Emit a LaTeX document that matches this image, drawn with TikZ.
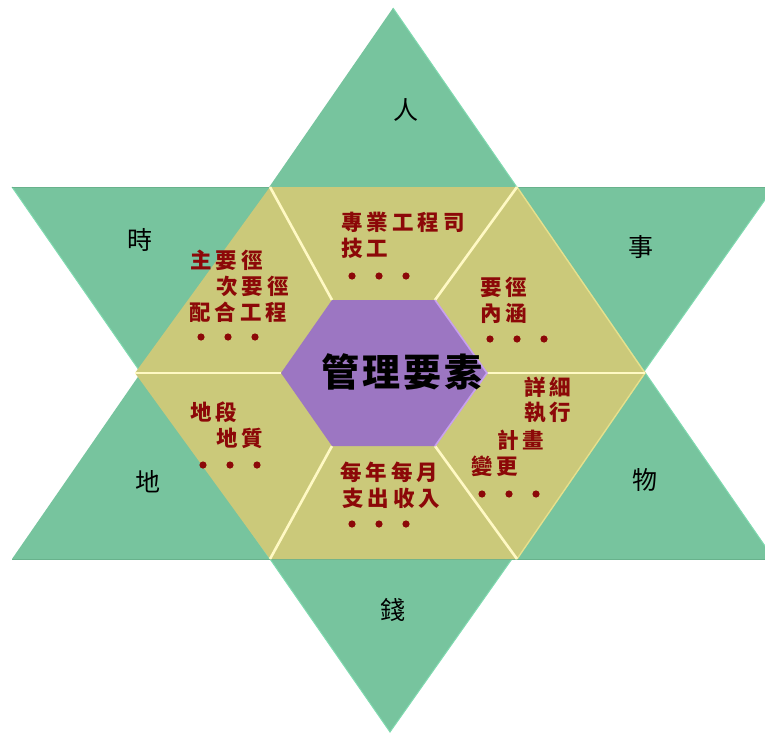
\documentclass[tikz,border=0pt]{standalone}
\usepackage{fontspec}
\newfontfamily\cjk{Noto Sans CJK TC}
\newfontfamily\cjkred[LetterSpace=19]{Noto Sans CJK TC}
\newfontfamily\cjkbig[LetterSpace=8]{Noto Sans CJK TC}
\definecolor{stargreen}{RGB}{119,196,158}
\definecolor{stargreenlt}{RGB}{128,218,176}
\definecolor{stargreendk}{RGB}{104,178,140}
\definecolor{hexyellow}{RGB}{203,201,122}
\definecolor{hexyellowlt}{RGB}{230,224,140}
\definecolor{divcream}{RGB}{255,249,196}
\definecolor{corepurple}{RGB}{156,118,194}
\definecolor{corepurplelt}{RGB}{200,160,240}
\definecolor{txtred}{RGB}{140,8,8}
\tikzset{
  pointlabel/.style={font=\cjk\fontsize{25}{25}\selectfont, text=black, inner sep=0pt},
  redlabel/.style={font=\cjkred\bfseries\fontsize{21.5}{21.5}\selectfont, text=txtred, inner sep=0pt, anchor=west},
  corelabel/.style={font=\cjkbig\bfseries\fontsize{38}{38}\selectfont, text=black, inner sep=0pt},
  divider/.style={draw=divcream, line width=2.6pt},
  reddot/.style={fill=txtred},
}
\newcommand{\dotrow}[2]{%
  \fill[reddot] (#1,#2) circle (3.6);
  \fill[reddot] (#1+27,#2) circle (3.6);
  \fill[reddot] (#1+54,#2) circle (3.6);
}
\begin{document}
\begin{tikzpicture}[x=1pt,y=-1pt]
\useasboundingbox (0,0) rectangle (765,733);
\clip (0,0) rectangle (765,733);
% star triangles
\fill[stargreen] (393,8) -- (12,559) -- (774,559) -- cycle;
\fill[stargreen] (12,187) -- (774,187) -- (390,732) -- cycle;
\draw[stargreenlt, line width=1pt] (393,8) -- (774,559);
\draw[stargreenlt, line width=1pt] (12,187) -- (390,732) -- (774,187);
\draw[stargreendk, line width=0.8pt] (12,187) -- (774,187);
\draw[stargreendk, line width=0.8pt] (12,559) -- (774,559);
% yellow hexagon
\coordinate (h1) at (270,187);
\coordinate (h2) at (517,187);
\coordinate (h3) at (645,373);
\coordinate (h4) at (517,559);
\coordinate (h5) at (270,559);
\coordinate (h6) at (135,373);
\fill[hexyellow] (h1) -- (h2) -- (h3) -- (h4) -- (h5) -- (h6) -- cycle;
\draw[hexyellowlt, line width=1.4pt] (h2) -- (h3) -- (h4);
% inner purple hexagon corners
\coordinate (p1) at (332,300);
\coordinate (p2) at (435,300);
\coordinate (p3) at (487,373);
\coordinate (p4) at (435,446);
\coordinate (p5) at (332,446);
\coordinate (p6) at (281,373);
% dividers
\draw[divider] (h1) -- (p1);
\draw[divider] (h2) -- (p2);
\draw[divider] (h3) -- (p3);
\draw[divider] (h4) -- (p4);
\draw[divider] (h5) -- (p5);
\draw[divider] (h6) -- (p6);
% purple core
\fill[corepurple] (p1) -- (p2) -- (p3) -- (p4) -- (p5) -- (p6) -- cycle;
\draw[corepurplelt, line width=1.6pt] (p2) -- (p3) -- (p4);
\node[corelabel] (core) at (402,372) {管理要素};
% outer point labels
\node[pointlabel] (ren) at (406,110) {人};
\node[pointlabel] (shi) at (140,240) {時};
\node[pointlabel] (shi2) at (641,247) {事};
\node[pointlabel] (di) at (148,482) {地};
\node[pointlabel] (wu) at (645,480) {物};
\node[pointlabel] (qian) at (393,610) {錢};
% top segment
\node[redlabel] (t1) at (341,222) {專業工程司};
\node[redlabel] (t2) at (341,248) {技工};
\dotrow{352}{276}
% upper-left segment
\node[redlabel] (ul1) at (190,260) {主要徑};
\node[redlabel] (ul2) at (216,286) {次要徑};
\node[redlabel] (ul3) at (189,312) {配合工程};
\dotrow{201}{337}
% upper-right segment
\node[redlabel] (ur1) at (480,287) {要徑};
\node[redlabel] (ur2) at (480,313) {內涵};
\dotrow{490}{339}
% lower-right segment
\node[redlabel] (lr1) at (524,387) {詳細};
\node[redlabel] (lr2) at (524,413) {執行};
\node[redlabel] (lr3) at (497,440) {計畫};
\node[redlabel] (lr4) at (471,466) {變更};
\dotrow{482}{494}
% lower-left segment
\node[redlabel] (ll1) at (190,412) {地段};
\node[redlabel] (ll2) at (216,438) {地質};
\dotrow{203}{465}
% bottom segment
\node[redlabel] (b1) at (340,472) {每年每月};
\node[redlabel] (b2) at (342,498) {支出收入};
\dotrow{352}{524}
\end{tikzpicture}
\end{document}
